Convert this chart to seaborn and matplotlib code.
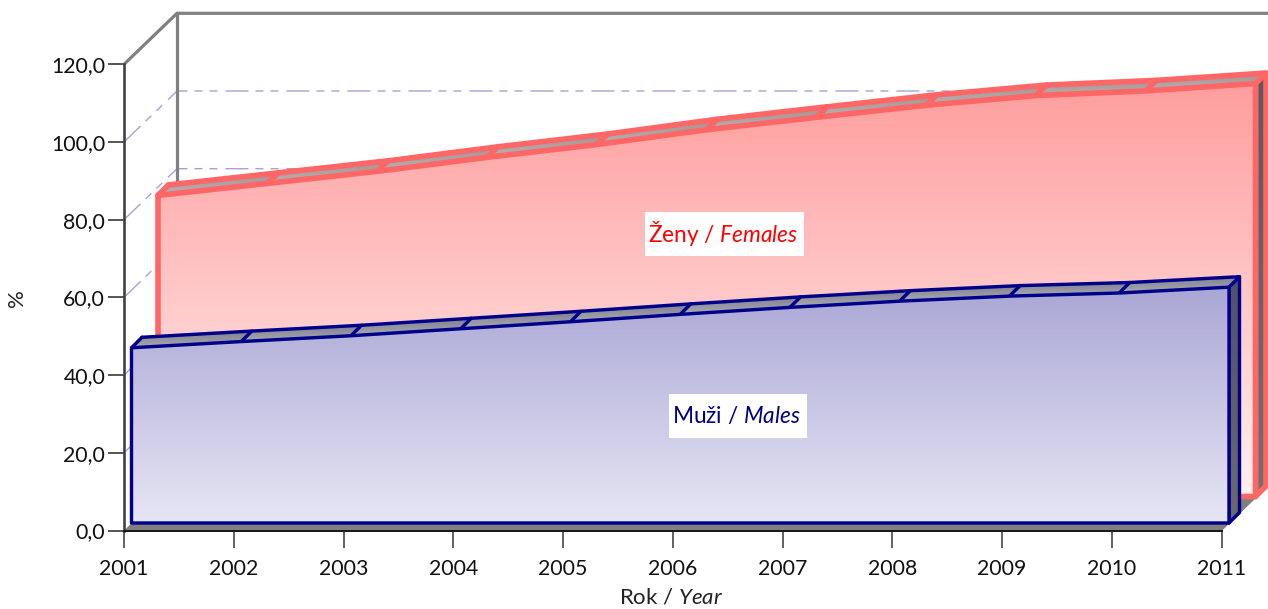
import numpy as np
import pandas as pd
import matplotlib
matplotlib.use('Agg')
import matplotlib.pyplot as plt
from matplotlib.colors import to_rgb
from matplotlib.patches import Polygon, Rectangle
import seaborn as sns

years = [2001, 2002, 2003, 2004, 2005, 2006, 2007, 2008, 2009, 2010, 2011]
muzi = [45.1, 46.7, 48.2, 50.0, 51.8, 53.7, 55.5, 57.1, 58.4, 59.2, 60.7]
zeny = [77.5, 80.6, 83.7, 87.3, 90.6, 94.4, 97.6, 100.7, 103.2, 104.4, 106.3]
y_ticks = [0, 20, 40, 60, 80, 100, 120]
y_labels = ['0,0', '20,0', '40,0', '60,0', '80,0', '100,0', '120,0']

sns.set_style('white')
plt.rcParams['font.family'] = ['Lato', 'DejaVu Sans']
plt.rcParams['mathtext.fontset'] = 'custom'
plt.rcParams['mathtext.rm'] = 'Lato'
plt.rcParams['mathtext.it'] = 'Lato:italic'
plt.rcParams['lines.scale_dashes'] = False

# scale of the picture, pixels per year and per percent
PX_X = 109.75
PX_Y = 3.885
X0 = 124
Y0 = 530.5
W, H = 1268, 609
LW = 0.72  # one pixel in points


def dx(p):
    return p / PX_X


def dy(p):
    return p / PX_Y


def px(x, y):
    # picture pixel to data
    return 2001 + (x - X0) / PX_X, (Y0 - y) / PX_Y


def gradient(ax, xs, ys, top, bottom, zorder):
    # vertical gradient clipped to the polygon
    t = np.linspace(0, 1, 64)[:, None, None]
    img = np.array(to_rgb(bottom))[None, None, :] * (1 - t) + np.array(to_rgb(top))[None, None, :] * t
    im = ax.imshow(img, extent=[min(xs), max(xs), min(ys), max(ys)], origin='lower',
                   aspect='auto', interpolation='bilinear', zorder=zorder)
    im.set_clip_path(Polygon(np.column_stack([xs, ys]), closed=True, transform=ax.transData))


def box3d(ax, values, shift, face, edge, lw, strip, side, z):
    x = np.array(years) + dx(shift)
    y0 = dy(shift)
    top = np.array(values) + y0
    d = dx(10.5)
    e = dy(10.5)
    # side
    sx = [x[-1], x[-1] + d, x[-1] + d, x[-1]]
    sy = [top[-1], top[-1] + e, y0 + e, y0]
    gradient(ax, sx, sy, side[0], side[1], z)
    ax.fill(sx, sy, fc='none', ec=edge, lw=lw * LW, zorder=z + 0.1, joinstyle='round')
    # top surface, one piece per year
    for i in range(len(x) - 1):
        qx = [x[i], x[i + 1], x[i + 1] + d, x[i] + d]
        qy = [top[i], top[i + 1], top[i + 1] + e, top[i] + e]
        gradient(ax, qx, qy, strip[0], strip[1], z)
        ax.plot([x[i], x[i] + d], [top[i], top[i] + e], color=edge, lw=lw * LW, zorder=z + 0.2)
    df = pd.DataFrame({'rok': x + d, 'hodnota': top + e})
    sns.lineplot(data=df, x='rok', y='hodnota', color=edge, lw=lw * LW, estimator=None,
                 errorbar=None, legend=False, ax=ax, zorder=z + 0.2)
    # front
    fx = [x[0], *x, x[-1]]
    fy = [y0, *top, y0]
    gradient(ax, fx, fy, face[0], face[1], z + 0.25)
    ax.fill(fx, fy, fc='none', ec=edge, lw=lw * LW, zorder=z + 0.3, joinstyle='round')


def label(ax, box, text, color):
    x0, y0, x1, y1 = box
    a = px(x0, y1)
    b = px(x1, y0)
    ax.add_patch(Rectangle(a, b[0] - a[0], b[1] - a[1], fc='white', ec='none', zorder=10))
    c = px((x0 + x1) / 2 - 1.5, (y0 + y1) / 2)
    ax.text(c[0], c[1], text, color=color, fontsize=16.3, ha='center', va='center', zorder=11)


fig = plt.figure(figsize=(W / 100, H / 100), dpi=100)
ax = fig.add_axes([0, 0, 1, 1])
ax.patch.set_alpha(0)

wall_x = dx(53)
wall_y = dy(51)
grid_dash = (0, (23 * LW, 7 * LW, 8 * LW, 7 * LW, 8 * LW, 8 * LW))

# floor
ax.add_patch(Polygon([[2001, 0], [2011, 0], [2011 + wall_x, wall_y], [2001 + wall_x, wall_y]],
                     fc='#808080', ec='none', zorder=1.5))
ax.plot([2011, 2011 + wall_x], [0, wall_y], color='#808080', lw=1 * LW, zorder=1.6)

# grid on the walls
for v in y_ticks[1:-1]:
    ax.plot([2001, 2001 + wall_x, 2011 + wall_x - dx(10)], [v, v + wall_y, v + wall_y],
            color='#a9a1d6', lw=1.4 * LW, ls=grid_dash, zorder=1.2)

# back wall edges
ax.plot([2001, 2001 + wall_x, 2011 + wall_x], [120, 120 + wall_y, 120 + wall_y],
        color='#808080', lw=3.2 * LW, zorder=1.3, solid_joinstyle='miter')
ax.plot([2001 + wall_x, 2001 + wall_x], [wall_y, 120 + wall_y],
        color='#808080', lw=3.2 * LW, zorder=1.3)

box3d(ax, zeny, 34, ('#ff9e9e', '#fff0f0'), '#ff6666', 5.6, ('#a89090', '#b4b4b4'),
      ('#5a5a60', '#707070'), 3)
box3d(ax, muzi, 7.5, ('#aba7d6', '#e6e6f5'), '#00008b', 3.4, ('#7f7f92', '#aaaab0'),
      ('#50506e', '#6c6c6c'), 6)

label(ax, (645, 212, 804, 256), r'Ženy / $\mathit{Females}$', '#ff0000')
label(ax, (669, 394, 807, 438), r'Muži / $\mathit{Males}$', '#000080')

# axes
ax.set_xlim(2001 - X0 / PX_X, 2001 + (W - X0) / PX_X)
ax.set_ylim((Y0 - H) / PX_Y, Y0 / PX_Y)
for s in ['top', 'right']:
    ax.spines[s].set_visible(False)
ax.spines['left'].set_position(('data', 2001))
ax.spines['left'].set_bounds(0, 120)
ax.spines['left'].set_color('#404040')
ax.spines['left'].set_linewidth(2.6 * LW)
ax.spines['bottom'].set_position(('data', 0))
ax.spines['bottom'].set_bounds(2001, 2011)
ax.spines['bottom'].set_color('#1a1a1a')
ax.spines['bottom'].set_linewidth(2 * LW)
ax.set_xticks(years)
ax.set_xticklabels([str(y) for y in years])
ax.set_yticks(y_ticks)
ax.set_yticklabels(y_labels)
ax.tick_params(axis='x', direction='out', bottom=True, length=17 * LW, width=1.6 * LW, color='#404040',
               labelsize=15.3, pad=8, labelcolor='#111111')
ax.tick_params(axis='y', direction='out', left=True, length=16 * LW, width=1.6 * LW, color='#303030',
               labelsize=15.3, pad=2, labelcolor='#111111')
ax.set_xlabel(r'Rok / $\mathit{Year}$', fontsize=16, color='#222222')
ax.set_ylabel('%', fontsize=16, color='#222222')
ax.xaxis.set_label_coords(671 / W, 1 - 597 / H)
ax.yaxis.set_label_coords(17 / W, 1 - 298 / H)
ax.xaxis.label.set_va('center')
ax.yaxis.label.set_va('center')

fig.savefig('out.png', dpi=100)
